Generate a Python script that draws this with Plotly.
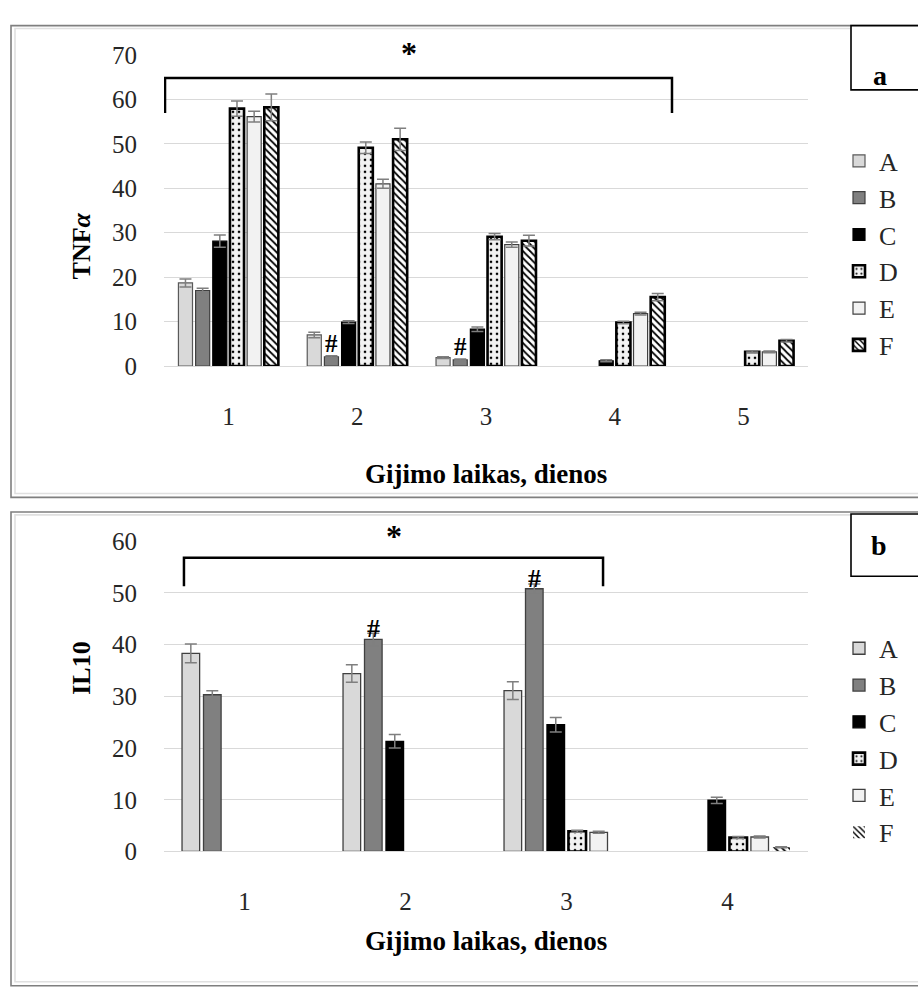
import plotly.graph_objects as go

W, H = 918, 989

# ---------------- data ----------------
days_a = [1, 2, 3, 4, 5]
days_b = [1, 2, 3, 4]
groups = ["A", "B", "C", "D", "E", "F"]

# TNF-alpha (panel a)
tnf_A = [18.7, 7.0, 1.9, None, None]
tnf_B = [17.0, 2.1, 1.4, None, None]
tnf_C = [28.1, 9.9, 8.3, 1.2, None]
tnf_D = [57.9, 49.1, 29.1, 9.8, 3.2]
tnf_E = [56.1, 41.0, 27.3, 11.8, 3.2]
tnf_F = [58.2, 51.0, 28.2, 15.5, 5.7]
tnf_A_err = [0.9, 0.6, 0.2, 0, 0]
tnf_B_err = [0.5, 0.2, 0.2, 0, 0]
tnf_C_err = [1.4, 0.3, 0.5, 0.2, 0]
tnf_D_err = [1.7, 1.3, 0.7, 0.3, 0.2]
tnf_E_err = [1.2, 1.0, 0.6, 0.3, 0.2]
tnf_F_err = [3.0, 2.5, 1.2, 0.8, 0.3]

# IL10 (panel b)
il_A = [38.3, 34.4, 31.1, None]
il_B = [30.3, 41.0, 50.8, None]
il_C = [None, 21.3, 24.5, 9.9]
il_D = [None, None, 3.9, 2.7]
il_E = [None, None, 3.7, 2.8]
il_F = [None, None, None, 0.8]
il_A_err = [1.8, 1.7, 1.7, 0]
il_B_err = [0.8, 1.2, 0.9, 0]
il_C_err = [0, 1.3, 1.4, 0.6]
il_D_err = [0, 0, 0.2, 0.2]
il_E_err = [0, 0, 0.2, 0.2]
il_F_err = [0, 0, 0, 0.1]

tnf_vals = [tnf_A, tnf_B, tnf_C, tnf_D, tnf_E, tnf_F]
tnf_errs = [tnf_A_err, tnf_B_err, tnf_C_err, tnf_D_err, tnf_E_err, tnf_F_err]
il_vals = [il_A, il_B, il_C, il_D, il_E, il_F]
il_errs = [il_A_err, il_B_err, il_C_err, il_D_err, il_E_err, il_F_err]

y_ticks_a = [0, 10, 20, 30, 40, 50, 60, 70]
y_ticks_b = [0, 10, 20, 30, 40, 50, 60]

# significance marks
hash_days_a = [2, 3]
hash_days_b = [2, 3]

# ---------------- style ----------------
FONT = "Liberation Serif"
TXT = "#262626"
GRID = "#d9d9d9"
ERR = "#7f7f7f"

def px_x(p):
    return p / W

def px_y(p):
    return 1 - p / H

fill = {
    "A": dict(color="#d9d9d9"),
    "B": dict(color="#808080"),
    "C": dict(color="#000000"),
    "D": dict(color="#f2f2f2", pattern=dict(shape=".", fgcolor="#000000", bgcolor="#f2f2f2",
                                             size=6, solidity=0.15, fillmode="replace")),
    "E": dict(color="#f2f2f2"),
    "F": dict(color="#ffffff", pattern=dict(shape="\\", fgcolor="#000000", bgcolor="#ffffff",
                                             size=5, solidity=0.35, fillmode="replace")),
}
line_a = {"A": ("#595959", 1.2), "B": ("#404040", 1.2), "C": ("#000000", 1.2),
          "D": ("#000000", 2.6), "E": ("#404040", 1.2), "F": ("#000000", 2.6)}
line_b = {"A": ("#404040", 1.3), "B": ("#404040", 1.3), "C": ("#000000", 1.3),
          "D": ("#000000", 2.6), "E": ("#404040", 1.3), "F": ("#ffffff", 0)}

fig = go.Figure()

for g, vals, errs in zip(groups, tnf_vals, tnf_errs):
    lc, lw = line_a[g]
    fig.add_trace(go.Bar(
        x=days_a, y=vals, name=g, legend="legend", legendgroup="a" + g,
        marker=dict(**fill[g], line=dict(color=lc, width=lw)),
        error_y=dict(type="data", array=errs, visible=True, color=ERR, thickness=1.5, width=6),
        xaxis="x", yaxis="y",
    ))

for g, vals, errs in zip(groups, il_vals, il_errs):
    lc, lw = line_b[g]
    fig.add_trace(go.Bar(
        x=days_b, y=vals, name=g, legend="legend2", legendgroup="b" + g,
        marker=dict(**fill[g], line=dict(color=lc, width=lw)),
        error_y=dict(type="data", array=errs, visible=True, color=ERR, thickness=1.5, width=6),
        xaxis="x2", yaxis="y2",
    ))

BARGAP = 0.2
B_OFFSET = -(1 - BARGAP) / 2 + 1.5 * (1 - BARGAP) / 6

tick_font = dict(family=FONT, size=25, color=TXT)

xdom = [px_x(164), px_x(808)]
common_x = dict(showgrid=False, zeroline=False, showline=True, linecolor=GRID, linewidth=1,
                ticks="", tickfont=tick_font, ticklabelstandoff=28, fixedrange=True)
common_y = dict(showgrid=True, gridcolor=GRID, gridwidth=1, zeroline=False, showline=False,
                ticks="", tickfont=tick_font, ticklabelstandoff=26, fixedrange=True)

legend_common = dict(font=dict(family=FONT, size=26, color=TXT), bgcolor="rgba(0,0,0,0)",
                     xanchor="left", yanchor="top", tracegroupgap=8, itemwidth=30,
                     traceorder="normal")

fig.update_layout(
    width=W, height=H, margin=dict(l=0, r=0, t=0, b=0),
    paper_bgcolor="white", plot_bgcolor="white",
    barmode="group", bargap=BARGAP, bargroupgap=0.18,
    xaxis=dict(domain=xdom, anchor="y", range=[0.5, 5.5], tickvals=days_a,
               ticktext=[str(d) for d in days_a], **common_x),
    yaxis=dict(domain=[px_y(363), px_y(43)], anchor="x", range=[0, 70], tickvals=y_ticks_a, **common_y),
    xaxis2=dict(domain=xdom, anchor="y2", range=[0.5, 4.5], tickvals=days_b,
                ticktext=[str(d) for d in days_b], **common_x),
    yaxis2=dict(domain=[px_y(862), px_y(543)], anchor="x2", range=[0, 60], tickvals=y_ticks_b, **common_y),
    legend=dict(x=px_x(839), y=px_y(128), **legend_common),
    legend2=dict(x=px_x(839), y=px_y(629), **legend_common),
    showlegend=True,
)

shapes = []
# outer frames (double line look)
for (y0, y1) in [(13, 498), (513, 1000)]:
    shapes.append(dict(type="rect", xref="paper", yref="paper",
                       x0=px_x(11), x1=px_x(930), y0=px_y(y1), y1=px_y(y0),
                       line=dict(color="#7f7f7f", width=1.6), fillcolor="rgba(0,0,0,0)", layer="below"))
    shapes.append(dict(type="rect", xref="paper", yref="paper",
                       x0=px_x(15), x1=px_x(930), y0=px_y(y1 - 4), y1=px_y(y0 + 3),
                       line=dict(color="#e0e0e0", width=1.6), fillcolor="rgba(0,0,0,0)", layer="below"))
# panel label boxes
for (y0, y1) in [(13, 79), (515, 579)]:
    shapes.append(dict(type="rect", xref="paper", yref="paper",
                       x0=px_x(851), x1=px_x(930), y0=px_y(y1), y1=px_y(y0),
                       line=dict(color="#000000", width=1.6), fillcolor="white"))

# significance brackets (data coords)
BR_A = dict(x0=0.508, x1=4.444, top=64.8, leg=56.9)
BR_B = dict(x0=0.624, x1=3.227, top=56.8, leg=51.3)
for br, xr, yr in [(BR_A, "x", "y"), (BR_B, "x2", "y2")]:
    path = "M {x0},{leg} L {x0},{top} L {x1},{top} L {x1},{leg}".format(**br)
    shapes.append(dict(type="path", xref=xr, yref=yr, path=path,
                       line=dict(color="#000000", width=2.5)))
fig.update_layout(shapes=shapes)

ann = []
# panel letters
ann.append(dict(text="<b>a</b>", x=px_x(889), y=px_y(46), xref="paper", yref="paper",
                showarrow=False, font=dict(family=FONT, size=28, color="#000")))
ann.append(dict(text="<b>b</b>", x=px_x(889), y=px_y(547), xref="paper", yref="paper",
                showarrow=False, font=dict(family=FONT, size=28, color="#000")))
# axis titles
ann.append(dict(text="<b>TNF<i>α</i></b>", x=px_x(65), y=px_y(203), xref="paper", yref="paper",
                showarrow=False, textangle=-90, font=dict(family=FONT, size=26, color="#000")))
ann.append(dict(text="<b>IL10</b>", x=px_x(65), y=px_y(703), xref="paper", yref="paper",
                showarrow=False, textangle=-90, font=dict(family=FONT, size=26, color="#000")))
ann.append(dict(text="<b>Gijimo laikas, dienos</b>", x=px_x(486), y=px_y(474), xref="paper", yref="paper",
                showarrow=False, font=dict(family=FONT, size=27, color="#000")))
ann.append(dict(text="<b>Gijimo laikas, dienos</b>", x=px_x(486), y=px_y(972), xref="paper", yref="paper",
                showarrow=False, font=dict(family=FONT, size=27, color="#000")))
# asterisks
ann.append(dict(text="<b>*</b>", x=(BR_A["x0"] + BR_A["x1"]) / 2 - 0.07, y=BR_A["top"] + 1.2,
                xref="x", yref="y", yanchor="bottom", showarrow=False,
                font=dict(family=FONT, size=32, color="#000")))
ann.append(dict(text="<b>*</b>", x=(BR_B["x0"] + BR_B["x1"]) / 2, y=BR_B["top"] + 0.3,
                xref="x2", yref="y2", yanchor="bottom", showarrow=False,
                font=dict(family=FONT, size=32, color="#000")))
# hash marks above group B bars
for d in hash_days_a:
    ann.append(dict(text="<b>#</b>", x=d + B_OFFSET, y=tnf_B[d - 1], xref="x", yref="y",
                    yanchor="bottom", yshift=-2, showarrow=False,
                    font=dict(family=FONT, size=25, color="#000")))
for d in hash_days_b:
    ann.append(dict(text="<b>#</b>", x=d + B_OFFSET, y=il_B[d - 1], xref="x2", yref="y2",
                    yanchor="bottom", yshift=-6, showarrow=False,
                    font=dict(family=FONT, size=26, color="#000")))
fig.update_layout(annotations=ann)

fig.write_html("out.html")
